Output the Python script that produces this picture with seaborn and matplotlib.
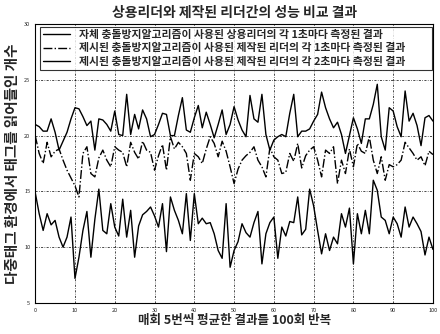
import numpy as np
import pandas as pd
import matplotlib
matplotlib.use("Agg")
import matplotlib.pyplot as plt
import seaborn as sns

# x: 반복 회차 0..100
rounds = list(range(101))

# 상용리더, 1초
commercial_1s = [
    21.0, 20.8, 20.4, 20.4, 21.5, 20.3, 18.7, 19.5, 20.3, 21.5,
    22.5, 22.4, 21.7, 20.9, 21.3, 18.7, 21.5, 21.4, 21.0, 20.4,
    22.2, 20.1, 20.0, 23.7, 20.1, 21.9, 20.6, 22.3, 21.5, 19.9,
    20.1, 21.0, 22.0, 21.9, 20.0, 20.0, 21.8, 23.4, 20.5, 20.3,
    21.6, 22.7, 20.7, 22.1, 21.0, 19.8, 21.0, 22.3, 20.1, 21.0,
    22.6, 21.4, 20.5, 19.9, 23.6, 21.5, 21.2, 23.7, 20.1, 18.7,
    19.6, 19.9, 20.1, 19.9, 22.0, 23.7, 19.9, 20.4, 20.4, 20.6,
    21.3, 21.9, 23.9, 22.5, 21.5, 20.7, 21.2, 20.1, 18.4, 20.0,
    21.6, 20.6, 19.3, 21.5, 21.5, 22.8, 24.6, 19.9, 18.7, 22.5,
    22.2, 20.8, 19.9, 24.0, 21.3, 22.0, 20.9, 19.1, 21.6, 21.8,
    21.3,
]

# 제작 리더, 1초
custom_1s = [
    20.0, 18.4, 17.5, 19.4, 18.1, 18.6, 18.8, 17.8, 16.9, 16.2,
    15.5, 14.5, 18.4, 19.0, 16.6, 16.3, 18.0, 18.7, 17.8, 17.2,
    19.0, 18.7, 18.5, 17.2, 19.4, 18.5, 17.9, 19.5, 18.7, 18.5,
    16.9, 18.2, 19.2, 16.9, 19.9, 18.8, 19.4, 19.0, 18.4, 16.0,
    18.4, 18.1, 17.5, 18.8, 19.9, 19.3, 18.1, 19.5, 18.6, 17.2,
    15.7, 17.0, 17.8, 18.2, 18.5, 19.0, 17.8, 17.2, 16.3, 18.9,
    18.1, 17.8, 16.6, 16.7, 18.4, 17.7, 19.3, 17.1, 18.2, 18.7,
    19.0, 17.8, 16.3, 18.7, 18.4, 19.0, 15.7, 17.8, 16.6, 18.8,
    17.2, 19.3, 18.6, 18.4, 19.9, 17.8, 16.6, 18.1, 16.0, 17.4,
    17.2, 17.4, 17.8, 19.4, 18.9, 18.4, 17.8, 18.1, 17.3, 18.6,
    18.3,
]

# 제작 리더, 2초
custom_2s = [
    14.9, 13.0, 11.5, 13.0, 12.0, 12.4, 10.9, 10.0, 10.9, 12.7,
    7.2, 9.1, 11.5, 13.2, 9.1, 12.5, 15.2, 11.5, 11.2, 13.9,
    11.8, 11.0, 14.3, 10.9, 13.3, 9.1, 11.9, 12.9, 13.2, 13.6,
    12.8, 11.8, 13.9, 9.6, 14.5, 13.3, 12.4, 11.2, 14.8, 10.6,
    14.8, 12.1, 12.6, 12.1, 12.2, 11.2, 9.7, 9.0, 13.9, 8.2,
    9.7, 10.5, 12.1, 11.3, 10.9, 12.2, 13.2, 8.5, 11.2, 12.2,
    12.7, 9.0, 11.8, 11.0, 12.3, 12.2, 14.5, 11.1, 11.6, 15.2,
    13.7, 11.5, 9.4, 11.2, 9.7, 10.9, 10.3, 13.0, 11.8, 13.5,
    8.5, 13.0, 11.2, 13.3, 11.2, 16.0, 15.1, 12.7, 12.4, 11.2,
    12.7, 12.1, 10.9, 13.6, 11.8, 12.7, 12.1, 11.4, 9.3, 10.9,
    9.8,
]

labels = [
    "자체 충돌방지알고리즘이 사용된 상용리더의 각 1초마다 측정된 결과",
    "제시된 충돌방지알고리즘이 사용된 제작된 리더의 각 1초마다 측정된 결과",
    "제시된 충돌방지알고리즘이 사용된 제작된 리더의 각 2초마다 측정된 결과",
]

sns.set_style("white")
plt.rcParams['font.family'] = ['Noto Sans CJK KR', 'DejaVu Sans']

fig = plt.figure(figsize=(4.4, 3.34), dpi=100)
ax = fig.add_axes([0.080, 0.093, 0.904, 0.835])

series = [commercial_1s, custom_1s, custom_2s]
styles = ["-", "-.", "-"]
for vals, lab, ls in zip(series, labels, styles):
    sns.lineplot(x=rounds, y=vals, ax=ax, color="black", linewidth=1.0,
                 linestyle=ls, label=lab)

ax.set_xlim(0, 100)
ax.set_ylim(5, 30)
ax.set_xticks(range(0, 101, 10))
ax.set_yticks(range(5, 31, 5))
ax.tick_params(labelsize=4, length=2, direction="in")
ax.grid(True, color="black", linestyle=(0, (3, 2, 1, 2)), linewidth=0.5)
for sp in ax.spines.values():
    sp.set_color("black")
    sp.set_linewidth(0.8)

ax.set_title("상용리더와 제작된 리더간의 성능 비교 결과", fontsize=10,
             fontweight="bold", pad=5)
ax.set_xlabel("매회 5번씩 평균한 결과를 100회 반복", fontsize=9,
              fontweight="bold", labelpad=1)
ax.set_ylabel("다중태그 환경에서 태그를 읽어들인 개수", fontsize=10.5,
              fontweight="bold", labelpad=3)

leg = ax.legend(loc="upper left", bbox_to_anchor=(0.012, 0.815, 0.985, 0.175),
                mode="expand", prop={"size": 7.8, "weight": "bold"},
                frameon=True, fancybox=False, edgecolor="black",
                borderaxespad=0, borderpad=0.3, handlelength=2.5,
                labelspacing=0.3)
leg.get_frame().set_linewidth(0.8)

fig.savefig("out.png", dpi=100)
